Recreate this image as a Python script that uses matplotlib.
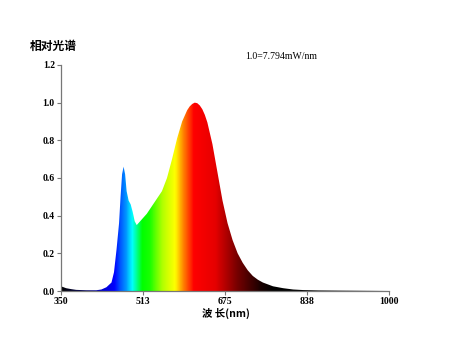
import numpy as np
import matplotlib
matplotlib.use("Agg")
import matplotlib.pyplot as plt
from matplotlib.colors import LinearSegmentedColormap
from matplotlib.patches import Polygon

plt.rcParams['font.family'] = ['Noto Sans CJK SC', 'DejaVu Sans']

wavelengths = [350, 355, 360, 370, 380, 400, 420, 430, 440, 450, 455, 460, 465, 468,
               471, 474, 477, 480, 484, 488, 492, 496, 500, 505, 510, 520, 530, 540,
               550, 560, 570, 580, 590, 600, 605, 610, 615, 620, 625, 630, 635, 640,
               650, 660, 670, 680, 690, 700, 710, 720, 730, 740, 750, 770, 790, 810,
               830, 860, 900, 950, 1000]
values = [0.025, 0.02, 0.015, 0.01, 0.006, 0.004, 0.004, 0.008, 0.02, 0.045, 0.10,
          0.22, 0.36, 0.50, 0.62, 0.66, 0.62, 0.53, 0.48, 0.46, 0.42, 0.37, 0.35,
          0.365, 0.38, 0.41, 0.45, 0.49, 0.53, 0.60, 0.70, 0.81, 0.90, 0.96, 0.98,
          0.993, 1.0, 0.997, 0.985, 0.965, 0.935, 0.895, 0.78, 0.63, 0.48, 0.36,
          0.27, 0.20, 0.15, 0.11, 0.08, 0.06, 0.045, 0.025, 0.015, 0.008, 0.005,
          0.003, 0.002, 0.001, 0.0]

x_ticks = [350, 513, 675, 838, 1000]
y_ticks = [0.0, 0.2, 0.4, 0.6, 0.8, 1.0, 1.2]

color_stops = [(350, (0, 0, 0)), (400, (0, 0, 0.4)), (430, (0, 0, 0.8)),
               (455, (0, 0, 1)), (467, (0, 0.35, 1)), (478, (0, 0.6, 1)),
               (490, (0, 1, 1)), (500, (0, 1, 0.5)), (510, (0, 1, 0)),
               (525, (0.1, 1, 0)), (550, (0.7, 1, 0)), (575, (1, 1, 0)),
               (592, (1, 0.5, 0)), (612, (1, 0, 0)), (655, (0.9, 0, 0)),
               (700, (0.45, 0, 0)), (745, (0.1, 0, 0)), (770, (0, 0, 0)),
               (1000, (0, 0, 0))]

cmap = LinearSegmentedColormap.from_list(
    "spec", [((w - 350) / 650, c) for w, c in color_stops])

fig = plt.figure(figsize=(4.51, 3.43), dpi=100)
ax = fig.add_axes([0.1353, 0.1516, 0.7273, 0.659])

grad = np.linspace(0, 1, 1000).reshape(1, -1)
im = ax.imshow(grad, cmap=cmap, aspect='auto', extent=[350, 1000, 0, 1.2],
               origin='lower', interpolation='bilinear')
verts = list(zip(wavelengths, values)) + [(1000, 0), (350, 0)]
poly = Polygon(verts, closed=True, facecolor='none', edgecolor='none')
ax.add_patch(poly)
im.set_clip_path(poly)

ax.set_xlim(350, 1000)
ax.set_ylim(0, 1.2)
ax.set_xticks(x_ticks)
ax.set_yticks(y_ticks)
ax.set_xticklabels([str(t) for t in x_ticks], family='Liberation Serif',
                   fontweight='bold', fontsize=7)
ax.set_yticklabels(["%.1f" % t for t in y_ticks], family='Liberation Serif',
                   fontweight='bold', fontsize=7)
for s in ['top', 'right']:
    ax.spines[s].set_visible(False)
for s in ['left', 'bottom']:
    ax.spines[s].set_color('#777777')
    ax.spines[s].set_linewidth(0.9)
ax.tick_params(axis='both', length=3, width=0.8, color='#777777', pad=1.5)

fig.text(0.066, 0.855, "相对光谱", fontsize=8.5, fontweight='bold',
         family=['Noto Sans CJK SC', 'DejaVu Sans'])
fig.text(0.543, 0.828, "1.0=7.794mW/nm", fontsize=7,
         family='Liberation Serif')
fig.text(0.5, 0.102, "波 长(nm)", fontsize=7.5, fontweight='bold', ha='center',
         va='top', family=['Noto Sans CJK SC', 'DejaVu Sans'])

fig.savefig("out.png", dpi=100)
